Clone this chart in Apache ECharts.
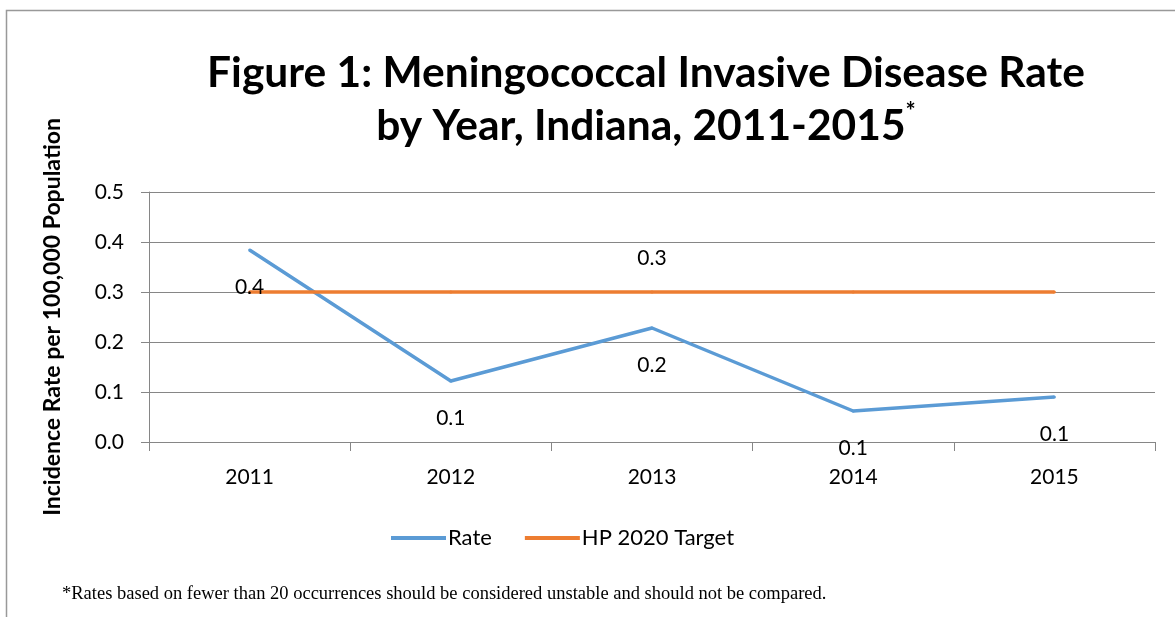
<!DOCTYPE html>
<html><head><meta charset="utf-8">
<script src="https://cdn.jsdelivr.net/npm/echarts@6/dist/echarts.min.js"></script>
<style>html,body{margin:0;padding:0;background:#fff}#c{width:1175px;height:617px}</style>
</head><body><div id="c"></div>
<script>
const years = ['2011','2012','2013','2014','2015'];
const rate = [0.384, 0.122, 0.228, 0.062, 0.09];
const target = [0.3, 0.3, 0.3, 0.3, 0.3];
const targetLabelIndex = 2;
const yTicks = [0, 0.1, 0.2, 0.3, 0.4, 0.5];

const FONT = 'Lato, "Open Sans", sans-serif';
const chart = echarts.init(document.getElementById('c'));
chart.setOption({
  backgroundColor: '#fff',
  animation: false,
  title: {
    text: '{a|Figure 1: Meningococcal Invasive Disease Rate}\n{a|by Year, Indiana, 2011-2015}{s|*}',
    left: 641, top: 42, textAlign: 'center',
    textStyle: {
      rich: {
        a: { fontFamily: FONT, fontWeight: 'bold', fontSize: 42.5, color: '#000', lineHeight: 53, align: 'center' },
        s: { fontFamily: FONT, fontWeight: 'bold', fontSize: 24, color: '#000', lineHeight: 53, verticalAlign: 'top', padding: [0,0,24,0] }
      }
    }
  },
  legend: {
    left: 386, top: 522,
    itemWidth: 55, itemHeight: 4, itemGap: 33,
    icon: 'rect',
    textStyle: { fontFamily: FONT, fontSize: 22, color: '#000', padding: [0,0,0,-3] },
    data: ['Rate', 'HP 2020 Target']
  },
  grid: { left: 149, right: 20, top: 192, bottom: 175 },
  xAxis: {
    type: 'category', data: years, boundaryGap: true,
    axisLine: { lineStyle: { color: '#868686', width: 1 } },
    axisTick: { show: true, length: 9, lineStyle: { color: '#868686' } },
    axisLabel: { fontFamily: FONT, fontSize: 21, color: '#000', margin: 25 }
  },
  yAxis: {
    type: 'value', min: 0, max: 0.5, interval: 0.1,
    name: 'Incidence Rate per 100,000 Population',
    nameLocation: 'middle', nameGap: 85, nameRotate: 90,
    nameTextStyle: { fontFamily: FONT, fontWeight: 'bold', fontSize: 23, color: '#000' },
    axisLine: { show: true, lineStyle: { color: '#868686' } },
    axisTick: { show: true, length: 8, lineStyle: { color: '#868686' } },
    splitLine: { lineStyle: { color: '#868686', width: 1 } },
    axisLabel: { fontFamily: FONT, fontSize: 21, color: '#000', margin: 25,
      formatter: v => yTicks.includes(Math.round(v*10)/10) ? v.toFixed(1) : '' }
  },
  series: [
    {
      name: 'Rate', type: 'line', data: rate, symbol: 'circle', symbolSize: 3, showSymbol: true,
      lineStyle: { color: '#5B9BD5', width: 3.5 }, itemStyle: { color: '#5B9BD5' },
      label: { show: true, position: 'bottom', distance: 25, fontFamily: FONT, fontSize: 21, color: '#000',
        formatter: p => p.value.toFixed(1) },
      labelLayout: { hideOverlap: false }
    },
    {
      name: 'HP 2020 Target', type: 'line', symbol: 'circle', symbolSize: 3, showSymbol: true,
      data: target.map((v, i) => ({ value: v, label: { show: i === targetLabelIndex } })),
      lineStyle: { color: '#ED7D31', width: 3.5 }, itemStyle: { color: '#ED7D31' },
      label: { position: 'top', distance: 22, fontFamily: FONT, fontSize: 21, color: '#000',
        formatter: p => p.value.toFixed(1) },
      labelLayout: { hideOverlap: false }
    }
  ],
  graphic: [
    { type: 'rect', shape: { x: 6.5, y: 10.5, width: 1300, height: 800 }, style: { fill: 'none', stroke: '#999', lineWidth: 1.5 }, silent: true, z: -1 },
    { type: 'text', left: 62, top: 585, style: { text: '*Rates based on fewer than 20 occurrences should be considered unstable and should not be compared.', font: '18.5px "Liberation Serif", serif', fill: '#000' } }
  ]
});
</script></body></html>
